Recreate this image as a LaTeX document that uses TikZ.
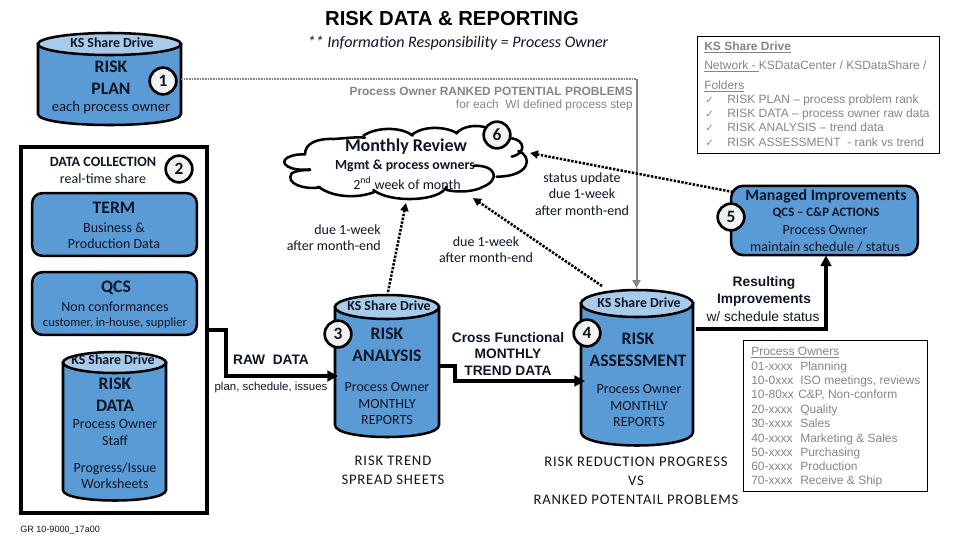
\documentclass[tikz,border=0pt]{standalone}
\usepackage{fontspec}
\setmainfont{Carlito}
\newfontfamily\arl{Liberation Sans}
\newfontfamily\djv{DejaVu Sans}
\newfontfamily\capsf[LetterSpace=5.5]{Carlito}
\usetikzlibrary{arrows.meta}
\definecolor{cylblue}{HTML}{5B9BD5}
\definecolor{cyltop}{HTML}{A9CBEA}
\definecolor{ink}{HTML}{0E1626}
\definecolor{greytxt}{HTML}{858585}
\newcommand\fs[1]{\fontsize{#1}{#1}\selectfont}
\newcommand\fsl[2]{\fontsize{#1}{#2}\selectfont}
\tikzset{
  every node/.style={inner sep=0pt,align=center,text=ink},
  cylline/.style={draw=black,line width=1.9pt},
  inv/.style={inner sep=0pt,draw=none},
  rbox/.style={draw=black,line width=1.9pt,fill=cylblue,rounded corners=7.5pt,inner sep=0pt},
  thinbox/.style={draw=black,line width=0.75pt,inner sep=0pt},
  numc/.style={circle,draw=black,line width=2pt,fill=black!5,minimum size=20pt,font=\bfseries\fs{13}},
  thick arrow/.style={draw=black,line width=2.4pt,-{Triangle[length=8pt,width=8pt]}},
  dot arrow/.style={draw=black,line width=1.9pt,dash pattern=on 1.8pt off 1.1pt,-{Triangle[length=6pt,width=6pt,sep=0pt]}},
  share/.style={font=\bfseries\fs{10.4}},
  head/.style={font=\bfseries\fsl{13.2}{16.5}},
  grey/.style={font=\arl\fs{9},text=greytxt,anchor=west,text height=6.6pt,text depth=1.9pt},
  boldar/.style={font=\arl\bfseries\fsl{10.3}{12.7}},
  plain/.style={font=\fsl{10.5}{12.2}},
  caps/.style={font=\capsf\fsl{11}{14.2}},
}
\newcommand\cyl[6]{% name, left, right, top of ellipse centre, bottom centre, ry
  \pgfmathsetmacro\cylcx{(#2+#3)/2}
  \pgfmathsetmacro\cyltt{#4-#6}
  \pgfmathsetmacro\cylbb{#5+#6}
  \pgfmathsetmacro\cylcc{(\cyltt+\cylbb)/2}
  \pgfmathsetmacro\cylw{(#3-#2)*0.75}
  \pgfmathsetmacro\cylh{(\cylbb-\cyltt)*0.75}
  \pgfmathsetmacro\cylrx{(#3-#2)*0.375}
  \pgfmathsetmacro\cylry{#6*0.75}
  \pgfmathsetmacro\cylctl{#5+1.333*#6}
  \path[cylline,fill=cylblue] (#2,#4) -- (#2,#5) .. controls (#2,\cylctl) and (#3,\cylctl) .. (#3,#5) -- (#3,#4) -- cycle;
  \path[cylline,fill=cyltop] (\cylcx,#4) ellipse [x radius=\cylrx pt,y radius=\cylry pt];
  \node[inv,minimum width=\cylw pt,minimum height=\cylh pt] (#1) at (\cylcx,\cylcc) {};
}
\begin{document}
\begin{tikzpicture}[x=0.75pt,y=-0.75pt]
\useasboundingbox (0,0) rectangle (960,540);

% titles
\node[font=\arl\bfseries\fs{15.2},text=black] (title) at (452,19) {RISK DATA \& REPORTING};
\node[font=\itshape\fs{12.05}] (resp) at (458,43) {** Information Responsibility = Process Owner};

% data collection frame
\node[draw=black,line width=2.7pt,minimum width=139.5pt,minimum height=274.5pt] (frame) at (114,330) {};
\node[rbox,minimum width=123.5pt,minimum height=47pt] (term) at (114.5,224.5) {};
\node[rbox,minimum width=123.5pt,minimum height=47pt] (qcs) at (114.5,303.5) {};

% cylinders
\cyl{plan}{38}{181}{44}{114}{11}
\cyl{data}{63}{166}{362.5}{490}{10.5}
\cyl{analysis}{335}{439}{307}{425}{12}
\cyl{assess}{581}{693}{303.5}{432}{13.5}

% managed improvements
\node[rbox,rounded corners=9pt,minimum width=140pt,minimum height=52pt] (managed) at (824.5,220.5) {};

% info boxes
\node[thinbox,minimum width=181.5pt,minimum height=87.75pt] (netbox) at (818,94.5) {};
\node[thinbox,minimum width=138pt,minimum height=113.25pt] (ownbox) at (835,415.5) {};

% cloud
\begin{scope}[shift={(270,115)},x=0.25pt,y=-0.25pt,line width=1.9pt,line cap=round]
  \draw (120,163) .. controls (60,170) and (25,145) .. (52,128) .. controls (70,118) and (90,118) .. (105,118);
  \draw (105,118) .. controls (105,85) and (140,70) .. (190,72) .. controls (225,70) and (260,65) .. (285,68);
  \draw (280,62) .. controls (320,35) and (395,35) .. (428,62);
  \draw (425,60) .. controls (460,30) and (530,35) .. (562,55);
  \draw (558,55) .. controls (580,32) and (620,28) .. (650,38);
  \draw (725,70) .. controls (765,75) and (770,115) .. (725,125);
  \draw (745,108) .. controls (790,125) and (780,185) .. (680,185);
  \draw (612,152) .. controls (680,150) and (690,195) .. (640,215) .. controls (610,232) and (560,232) .. (530,225);
  \draw (530,215) .. controls (510,260) and (360,265) .. (310,225);
  \draw (315,230) .. controls (270,250) and (190,250) .. (145,215);
  \draw (150,217) .. controls (100,225) and (45,205) .. (65,175) .. controls (75,168) and (95,165) .. (120,165);
\end{scope}
\coordinate (cloudS) at (406,203);
\coordinate (cloudSE) at (473,198);
\coordinate (cloudE) at (530,153);

% connectors
\coordinate (planOut) at (181,79);
\coordinate (netCorner) at (636.5,79);
\coordinate (assessIn) at (636.5,288);
\draw[draw=greytxt,line width=1.6pt,dash pattern=on 1.2pt off .8pt] (planOut) -- (netCorner);
\draw[draw=greytxt,line width=1.5pt,-{Triangle[length=6pt,width=6pt]}] (netCorner) -- (assessIn);

\coordinate (rawA) at (226,330);
\coordinate (rawB) at (226,376);
\coordinate (rawEnd) at (338,376);
\draw[thick arrow] (frame.east) -- (rawA) -- (rawB) -- (rawEnd);
\coordinate (trA) at (455,366);
\coordinate (trB) at (455,381);
\coordinate (trEnd) at (585,381);
\draw[thick arrow] (analysis.east) -- (trA) -- (trB) -- (trEnd);
\coordinate (resA) at (696,329);
\coordinate (resB) at (826,329);
\coordinate (resEnd) at (826,255.5);
\draw[thick arrow] (resA) -- (resB) -- (resEnd);

\coordinate (anOut) at (388,292);
\coordinate (asOut) at (602,286);
\coordinate (mgOut) at (733,192);
\draw[dot arrow] (anOut) -- (cloudS);
\draw[dot arrow] (asOut) -- (cloudSE);
\draw[dot arrow] (mgOut) -- (cloudE);

% number circles
\node[numc] (n1) at (163,81) {1};
\node[numc] (n2) at (179,169) {2};
\node[numc] (n3) at (338,334) {3};
\node[numc] (n4) at (587,333) {4};
\node[numc] (n5) at (731,217) {5};
\node[numc] (n6) at (497,135) {6};

% plan
\node[share] (s1) at (112,43) {KS Share Drive};
\node[head] (planT) at (111,78) {RISK\\PLAN};
\node[font=\fs{11}] (planB) at (111,108) {each process owner};

% data collection
\node[font=\bfseries\fs{10.6}] (dcT) at (103,162) {DATA COLLECTION};
\node[plain] (dcB) at (103,179) {real-time share};
\node[head] (termT) at (114,208) {TERM};
\node[plain] (termB) at (114,235.5) {Business \&\\Production Data};
\node[head] (qcsT) at (116,288) {QCS};
\node[plain] (qcsB) at (115,307) {Non conformances};
\node[font=\fs{9.4}] (qcsC) at (115,323) {customer, in-house, supplier};
\node[share] (s2) at (113,360) {KS Share Drive};
\node[head] (dataT) at (115,394.5) {RISK\\DATA};
\node[plain] (dataB) at (115,432.5) {Process Owner\\Staff};
\node[plain] (dataC) at (115,476) {Progress/Issue\\Worksheets};
\node[font=\arl\fs{6.8},anchor=west] (code) at (20,530) {GR 10-9000\_17a00};

% cloud text
\node[font=\bfseries\fs{13.5}] (mrT) at (406,147) {Monthly Review};
\node[font=\bfseries\fs{10.4}] (mrB) at (405,166) {Mgmt \& process owners};
\node[plain] (mrC) at (407,183) {2\textsuperscript{nd} week of month};

% ranked problems
\node[font=\arl\bfseries\fs{8.95},text=greytxt,anchor=east] (rp1) at (633,91) {Process Owner RANKED POTENTIAL PROBLEMS};
\node[font=\arl\fs{8.9},text=greytxt,anchor=east] (rp2) at (633,105) {for each\ \ WI defined process step};

% due labels
\node[plain,align=right,anchor=east] (due1) at (381,237.5) {due 1-week\\after month-end};
\node[plain] (due2) at (486,249.5) {due 1-week\\after month-end};
\node[plain] (due3) at (582,194) {status update\\due 1-week\\after month-end};

% network box
\node[grey,font=\arl\bfseries\fs{9}] (nb1) at (704,47) {\underline{KS Share Drive}};
\node[grey] (nb2) at (704,66) {\underline{Network - }KSDataCenter / KSDataShare /};
\node[grey] (nb3) at (704,86) {\underline{Folders}};
\node[grey,font=\djv\fs{7.5}] (ck1) at (705,100) {✓};
\node[grey,font=\djv\fs{7.5}] (ck2) at (705,114) {✓};
\node[grey,font=\djv\fs{7.5}] (ck3) at (705,128) {✓};
\node[grey,font=\djv\fs{7.5}] (ck4) at (705,143) {✓};
\node[grey] (nb4) at (727,100) {RISK PLAN – process problem rank};
\node[grey] (nb5) at (727,114) {RISK DATA – process owner raw data};
\node[grey] (nb6) at (727,128) {RISK ANALYSIS – trend data};
\node[grey] (nb7) at (727,143) {RISK ASSESSMENT\ \ - rank vs trend};

% managed text
\node[font=\bfseries\fs{11.9}] (miT) at (826,196) {Managed Improvements};
\node[font=\bfseries\fs{9.6}] (miB) at (826,213) {QCS – C\&P ACTIONS};
\node[plain] (miC) at (825,230) {Process Owner};
\node[plain] (miD) at (825,247) {maintain schedule / status};

% resulting
\node[boldar] (resT) at (764,291.5) {Resulting\\Improvements};
\node[font=\arl\fs{10.3}] (resU) at (763,317) {w/ schedule status};

% analysis
\node[share] (s3) at (389,306) {KS Share Drive};
\node[head] (anT) at (387,345) {RISK\\ANALYSIS};
\node[plain] (anB) at (387,403.5) {Process Owner\\MONTHLY\\REPORTS};
\node[caps] (anC) at (393,470.5) {RISK TREND\\SPREAD SHEETS};

% raw data
\node[font=\arl\bfseries\fs{10.3}] (raw) at (271,360) {RAW\ \ DATA};
\node[font=\arl\fs{8.6}] (rawS) at (271,388) {plan, schedule, issues};

% cross functional
\node[boldar] (cf) at (508,354) {Cross Functional\\MONTHLY\\TREND DATA};

% assessment
\node[share] (s4) at (639,303) {KS Share Drive};
\node[head] (asT) at (638,349.5) {RISK\\ASSESSMENT};
\node[plain] (asB) at (639,405.5) {Process Owner\\MONTHLY\\REPORTS};
\node[caps] (asC) at (636,481) {RISK REDUCTION PROGRESS\\VS\\RANKED POTENTAIL PROBLEMS};

% process owners
\node[grey] (po0) at (751,352) {\underline{Process Owners}};
\node[grey] (po1) at (751,367) {01-xxxx};
\node[grey] (po1b) at (800,367) {Planning};
\node[grey] (po2) at (751,381) {10-0xxx};
\node[grey] (po2b) at (800,381) {ISO meetings, reviews};
\node[grey] (po3) at (751,395) {10-80xx};
\node[grey] (po3b) at (798,395) {C\&P, Non-conform};
\node[grey] (po4) at (751,410) {20-xxxx};
\node[grey] (po4b) at (800,410) {Quality};
\node[grey] (po5) at (751,424) {30-xxxx};
\node[grey] (po5b) at (800,424) {Sales};
\node[grey] (po6) at (751,439) {40-xxxx};
\node[grey] (po6b) at (800,439) {Marketing \& Sales};
\node[grey] (po7) at (751,453) {50-xxxx};
\node[grey] (po7b) at (800,453) {Purchasing};
\node[grey] (po8) at (751,467) {60-xxxx};
\node[grey] (po8b) at (800,467) {Production};
\node[grey] (po9) at (751,481) {70-xxxx};
\node[grey] (po9b) at (800,481) {Receive \& Ship};
\end{tikzpicture}
\end{document}
